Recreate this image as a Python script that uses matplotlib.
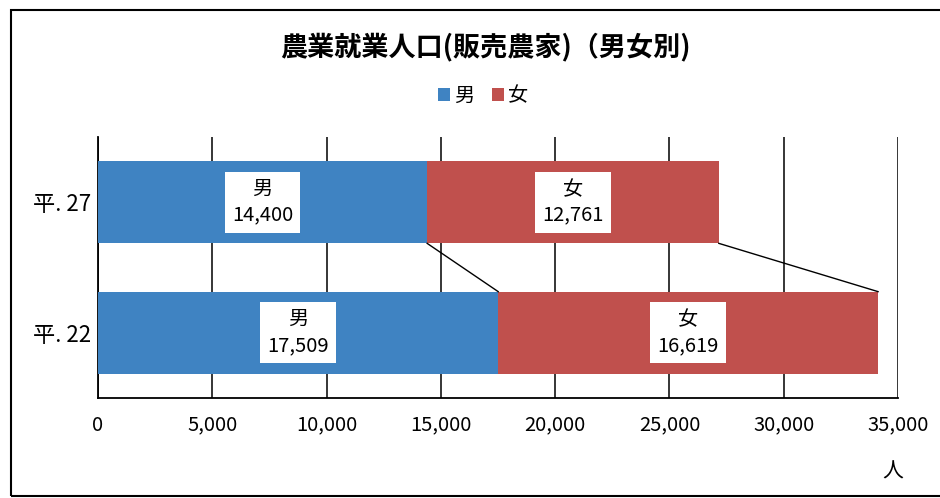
import matplotlib
matplotlib.use("Agg")
import matplotlib.pyplot as plt
from matplotlib.patches import Patch, Rectangle

plt.rcParams['font.family'] = ['Noto Sans CJK JP', 'DejaVu Sans']

categories = ['平. 22', '平. 27']
male = [17509, 14400]
female = [16619, 12761]
series_names = ['男', '女']
xticks = [0, 5000, 10000, 15000, 20000, 25000, 30000, 35000]
title = '農業就業人口(販売農家)（男女別)'
unit = '人'

c_male = '#3f83c2'
c_female = '#c0504d'

fig = plt.figure(figsize=(9.4, 4.98), dpi=100)
ax = fig.add_axes([98/940, 1-398/498, 800/940, 261/498])

ypos = list(range(len(categories)))
h = 0.63
ax.barh(ypos, male, height=h, color=c_male, zorder=3)
ax.barh(ypos, female, left=male, height=h, color=c_female, zorder=3)

# series lines between bars
for i in range(len(ypos) - 1):
    lo, hi = ypos[i], ypos[i + 1]
    ax.plot([male[hi], male[lo]], [hi - h/2, lo + h/2], color='black', lw=1.0, zorder=4)
    tot_hi = male[hi] + female[hi]
    tot_lo = male[lo] + female[lo]
    ax.plot([tot_hi, tot_lo], [hi - h/2, lo + h/2], color='black', lw=1.0, zorder=4)

# labels
for i, y in enumerate(ypos):
    for name, left, val in [(series_names[0], 0, male[i]), (series_names[1], male[i], female[i])]:
        ax.text(left + val/2, y, f'{name}\n{val:,}', ha='center', va='center',
                fontsize=14.5, linespacing=1.3, zorder=5,
                bbox=dict(boxstyle='square,pad=0.35', facecolor='white', edgecolor='none'))

ax.set_xlim(0, 35000)
ax.set_ylim(-0.5, 1.5)
ax.set_xticks(xticks)
ax.set_xticklabels([f'{v:,}' for v in xticks], fontsize=14.5)
ax.set_yticks(ypos)
ax.set_yticklabels(categories, fontsize=16)
ax.tick_params(axis='both', length=0)
ax.tick_params(axis='x', pad=12)
ax.tick_params(axis='y', pad=5)
ax.grid(axis='x', color='black', lw=1.1, zorder=1)
for s in ['top', 'right']:
    ax.spines[s].set_visible(False)
for s in ['left', 'bottom']:
    ax.spines[s].set_color('black')
    ax.spines[s].set_linewidth(1.3)
    ax.spines[s].set_zorder(2)

fig.text(485/940, 1-47/498, title, ha='center', va='center', fontsize=19.5, fontweight='bold')
fig.text(893/940, 1-472/498, unit, ha='center', va='center', fontsize=15)

handles = [Patch(facecolor=c_male), Patch(facecolor=c_female)]
fig.legend(handles, series_names, loc='center', bbox_to_anchor=(483/940, 1-96/498),
           ncol=2, frameon=False, fontsize=14.5, handlelength=0.6, handleheight=0.6,
           handletextpad=0.2, columnspacing=0.9)

fig.add_artist(Rectangle((11/940, 1-496/498), 940/940, 486/498, transform=fig.transFigure,
                         fill=False, edgecolor='black', lw=1.5))

fig.savefig('out.png', dpi=100)
